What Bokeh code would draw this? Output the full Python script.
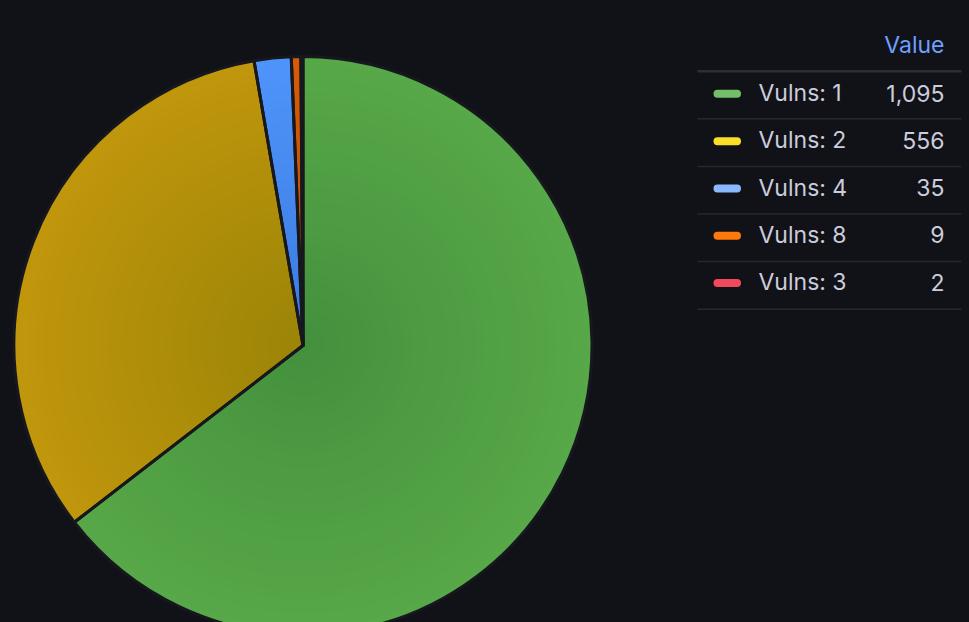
import math
from bokeh.plotting import figure
from bokeh.models import ColumnDataSource, Range1d, GlobalInlineStyleSheet
from bokeh.core.properties import value
from bokeh.embed import file_html
from bokeh.resources import INLINE

# ---- data ----
labels = ["Vulns: 1", "Vulns: 2", "Vulns: 4", "Vulns: 8", "Vulns: 3"]
values = [1095, 556, 35, 9, 2]
legend_colors = ["#73bf69", "#fade2a", "#8ab8ff", "#ff780a", "#f2495c"]
edge_colors = ["#57a848", "#c0960c", "#4f94fa", "#d85a08", "#e0283c"]
center_colors = ["#44903d", "#9a8407", "#3a7ae0", "#b84c08", "#b01c2c"]
header = "Value"

W, H = 969, 622
BG = "#111217"

p = figure(width=W, height=H, output_backend="svg", toolbar_location=None,
           x_range=Range1d(0, W), y_range=Range1d(0, H),
           min_border=0, background_fill_color=BG, border_fill_color=BG)
p.axis.visible = False
p.grid.visible = False
p.outline_line_color = None
p.stylesheets = [GlobalInlineStyleSheet(
    css="html, body { background: #111217; margin: 0; padding: 0; overflow: hidden; }")]

def iy(img_y):
    return H - img_y

def ix(img_x):
    return img_x

TXT_SHIFT = 9.5  # compensate baseline placement

# ---- pie ----
cx, cy, R = ix(302.5), iy(345), 289
total = float(sum(values))
starts, ends = [], []
cum = 0.0
for v in values:
    starts.append(math.radians(90 - cum / total * 360))
    cum += v
    ends.append(math.radians(90 - cum / total * 360))

def hex2rgb(h):
    h = h.lstrip("#")
    return [int(h[i:i + 2], 16) for i in (0, 2, 4)]

def mix(c1, c2, t):
    a, b = hex2rgb(c1), hex2rgb(c2)
    return "#%02x%02x%02x" % tuple(int(round(a[i] + (b[i] - a[i]) * t)) for i in range(3))

N = 40
xs, ys, rs, ss, es, cs = [], [], [], [], [], []
for k in range(N):
    frac = 1 - k / N
    for i in range(len(values)):
        xs.append(cx); ys.append(cy)
        rs.append(R * frac)
        ss.append(starts[i]); es.append(ends[i])
        cs.append(mix(center_colors[i], edge_colors[i], frac))
layers = ColumnDataSource(dict(x=xs, y=ys, r=rs, s=ss, e=es, c=cs))
p.wedge(x="x", y="y", radius="r", start_angle="s", end_angle="e",
        direction="clock", fill_color="c", line_color=None, source=layers)

outline = ColumnDataSource(dict(x=[cx] * len(values), y=[cy] * len(values),
                                s=starts, e=ends))
p.wedge(x="x", y="y", radius=R, start_angle="s", end_angle="e", direction="clock",
        fill_alpha=0, line_color="#17181d", line_width=3, line_join="round",
        source=outline)

# ---- legend table ----
font = value("Inter")
row_h = 47.33
p.text(x=[ix(944)], y=[iy(54 - TXT_SHIFT)], text=[header], text_color="#6e9fff",
       text_font=font, text_font_size="23px", text_align="right",
       text_baseline="alphabetic", text_font_style="normal")

sep_y = [iy(70.7)] + [iy(70.7 + 47.6 * (i + 1)) for i in range(len(values))]
p.segment(x0=[ix(697)], y0=[sep_y[0]], x1=[ix(961)], y1=[sep_y[0]],
          line_color="#2c2e34", line_width=2.5)
p.segment(x0=[ix(697)] * len(values), y0=sep_y[1:], x1=[ix(961)] * len(values),
          y1=sep_y[1:], line_color="#26282d", line_width=1.5)

row_base = [iy(102 - TXT_SHIFT + row_h * i) for i in range(len(values))]
row_mid = [iy(93.3 + row_h * i) for i in range(len(values))]
p.segment(x0=[ix(717)] * len(values), y0=row_mid, x1=[ix(736.5)] * len(values),
          y1=row_mid, line_color=legend_colors, line_width=8, line_cap="round")
p.text(x=[ix(758)] * len(values), y=row_base, text=labels, text_color="#ccccdc",
       text_font=font, text_font_size="23px", text_baseline="alphabetic")
p.text(x=[ix(944)] * len(values), y=row_base, text=[f"{v:,}" for v in values],
       text_color="#ccccdc", text_font=font, text_font_size="23px",
       text_align="right", text_baseline="alphabetic")

open("out.html", "w").write(file_html(p, INLINE))
